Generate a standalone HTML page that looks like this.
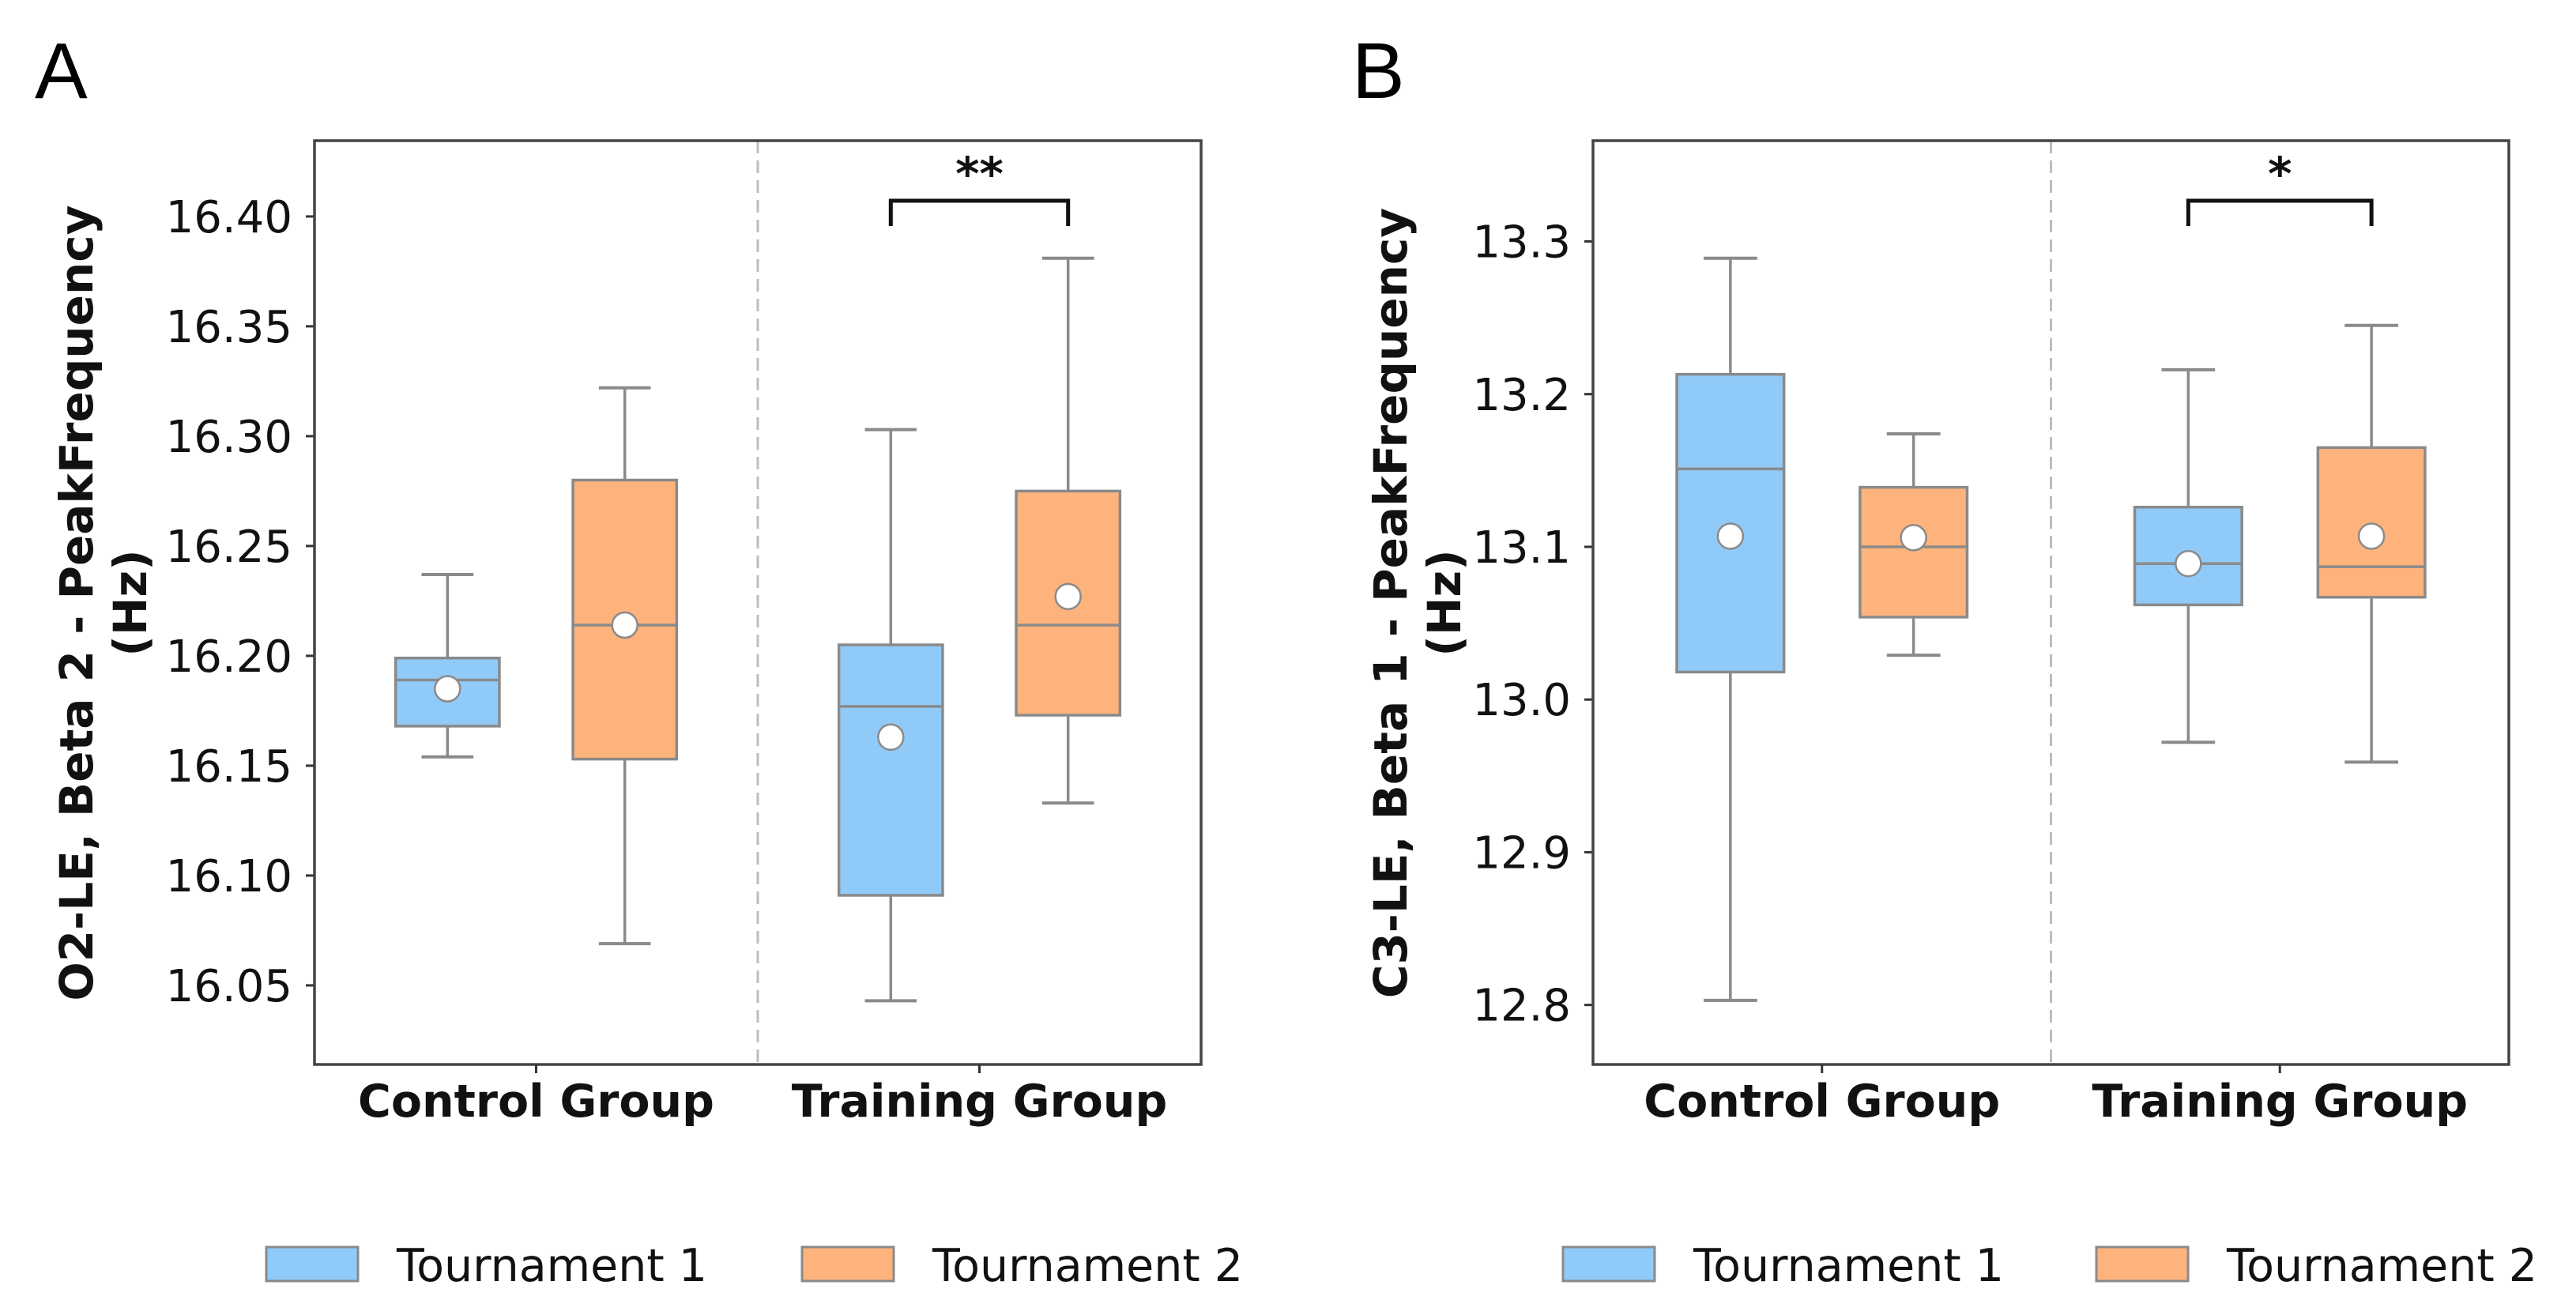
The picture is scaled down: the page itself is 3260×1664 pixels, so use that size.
<!DOCTYPE html>
<html><head><meta charset="utf-8"><style>
html,body{margin:0;padding:0;background:#fff;}
svg{display:block;font-family:"DejaVu Sans","Liberation Sans",sans-serif;}
</style></head><body>
<svg id="fig" width="3260" height="1664" viewBox="0 0 3260 1664" xmlns="http://www.w3.org/2000/svg">
<text x="44" y="124" font-family="Liberation Sans, sans-serif" font-size="100">A</text>
<text x="1711" y="124" font-family="Liberation Sans, sans-serif" font-size="100">B</text>
</svg>
<script>
// Panel A data
const groupsA = ["Control Group", "Training Group"];
const lowA  = [16.154, 16.069, 16.043, 16.133];
const q1A   = [16.168, 16.153, 16.091, 16.173];
const medA  = [16.189, 16.214, 16.177, 16.214];
const q3A   = [16.199, 16.280, 16.205, 16.275];
const highA = [16.237, 16.322, 16.303, 16.381];
const meanA = [16.185, 16.214, 16.163, 16.227];
const ticksA = [16.05, 16.10, 16.15, 16.20, 16.25, 16.30, 16.35, 16.40];
const tickLabelsA = ["16.05","16.10","16.15","16.20","16.25","16.30","16.35","16.40"];
const sigA = "**";
// Panel B data
const groupsB = ["Control Group", "Training Group"];
const lowB  = [12.803, 13.029, 12.972, 12.959];
const q1B   = [13.018, 13.054, 13.062, 13.067];
const medB  = [13.151, 13.100, 13.089, 13.087];
const q3B   = [13.213, 13.139, 13.126, 13.165];
const highB = [13.289, 13.174, 13.216, 13.245];
const meanB = [13.107, 13.106, 13.089, 13.107];
const ticksB = [12.8, 12.9, 13.0, 13.1, 13.2, 13.3];
const tickLabelsB = ["12.8","12.9","13.0","13.1","13.2","13.3"];
const sigB = "*";
const seriesNames = ["Tournament 1", "Tournament 2"];

const NS = "http://www.w3.org/2000/svg";
const svg = document.getElementById("fig");
function mk(tag, attrs, parent) {
  const e = document.createElementNS(NS, tag);
  for (const k in attrs) e.setAttribute(k, attrs[k]);
  (parent || svg).appendChild(e);
  return e;
}
const FILL = ["#90CAF8", "#FFB37C"];
const EDGE = "#8a8a8a";

function panel(cfg) {
  const g = mk("g", {});
  
  
  const L = cfg.left, R = cfg.right, T = 178, B = 1347;
  const y = v => B - (v - cfg.ymin) / (cfg.ymax - cfg.ymin) * (B - T);
  const W = R - L;
  const groupX = i => L + W * (0.25 + 0.5 * i);
  const boxX = (gi, s) => groupX(gi) + (s === 0 ? -1 : 1) * W * 0.1;
  const bw = W * 0.117;

  const dv = mk("line", {x1: L + W / 2, x2: L + W / 2, y1: T, y2: B, stroke: "#bdbdbd", "stroke-width": 3, "stroke-dasharray": "16,9"}, g);
  
  

  cfg.ticks.forEach((t, i) => {
    const tk = mk("line", {x1: L - 11, x2: L, y1: y(t), y2: y(t), stroke: "#333", "stroke-width": 3}, g);
    
    
    const tl = mk("text", {x: L - 28, y: y(t) + 20, "text-anchor": "end", "font-size": 56, fill: "#111"}, g);
    
    
    tl.textContent = cfg.tickLabels[i];
  });

  for (let k = 0; k < 4; k++) {
    const gi = Math.floor(k / 2), s = k % 2;
    const cx = boxX(gi, s);
    const bg = mk("g", {}, g);
    
    
    mk("line", {x1: cx, x2: cx, y1: y(cfg.high[k]), y2: y(cfg.q3[k]), stroke: EDGE, "stroke-width": 3.5}, bg);
    mk("line", {x1: cx, x2: cx, y1: y(cfg.q1[k]), y2: y(cfg.low[k]), stroke: EDGE, "stroke-width": 3.5}, bg);
    mk("line", {x1: cx - bw * 0.25, x2: cx + bw * 0.25, y1: y(cfg.high[k]), y2: y(cfg.high[k]), stroke: EDGE, "stroke-width": 4}, bg);
    mk("line", {x1: cx - bw * 0.25, x2: cx + bw * 0.25, y1: y(cfg.low[k]), y2: y(cfg.low[k]), stroke: EDGE, "stroke-width": 4}, bg);
    mk("rect", {x: cx - bw / 2, y: y(cfg.q3[k]), width: bw, height: y(cfg.q1[k]) - y(cfg.q3[k]), fill: FILL[s], stroke: EDGE, "stroke-width": 3.5}, bg);
    mk("line", {x1: cx - bw / 2, x2: cx + bw / 2, y1: y(cfg.med[k]), y2: y(cfg.med[k]), stroke: EDGE, "stroke-width": 3.5}, bg);
    mk("circle", {cx: cx, cy: y(cfg.mean[k]), r: 16, fill: "#fff", stroke: EDGE, "stroke-width": 2.5}, bg);
  }

  const x1 = boxX(1, 0), x2 = boxX(1, 1);
  const br = mk("path", {d: `M${x1},${cfg.brBot} V${cfg.brTop} H${x2} V${cfg.brBot}`, fill: "none", stroke: "#111", "stroke-width": 5}, g);
  
  
  const st = mk("text", {x: (x1 + x2) / 2, y: 240, "text-anchor": "middle", "font-size": 58, "font-weight": "bold", fill: "#111"}, g);
  
  
  st.textContent = cfg.sig;

  const fr = mk("rect", {x: L, y: T, width: W, height: B - T, fill: "none", stroke: "#444", "stroke-width": 3.5}, g);
  
  

  cfg.groups.forEach((name, i) => {
    const xt = mk("line", {x1: groupX(i), x2: groupX(i), y1: B, y2: B + 11, stroke: "#333", "stroke-width": 3}, g);
    
    
    const xl = mk("text", {x: groupX(i), y: 1413, "text-anchor": "middle", "font-size": 57, "font-weight": "bold", fill: "#111"}, g);
    
    
    xl.textContent = name;
  });

  const yl = mk("text", {transform: `translate(${cfg.ylx},763) rotate(-90)`, "text-anchor": "middle", "font-size": 58, "font-weight": "bold", fill: "#111"}, g);
  
  
  yl.textContent = cfg.ylabel;
  const yl2 = mk("text", {transform: `translate(${cfg.ylx + 68},763) rotate(-90)`, "text-anchor": "middle", "font-size": 58, "font-weight": "bold", fill: "#111"}, g);
  
  
  yl2.textContent = "(Hz)";

  cfg.legendX.forEach((lx, s) => {
    const lg = mk("g", {}, g);
    
    
    mk("rect", {x: lx, y: 1578, width: 116, height: 43, fill: FILL[s], stroke: EDGE, "stroke-width": 3}, lg);
    const t = mk("text", {x: lx + 165, y: 1621, "font-size": 57, fill: "#111"}, lg);
    t.textContent = seriesNames[s];
  });
}

panel({name: "panel-a", left: 398, right: 1520, ymin: 16.014, ymax: 16.4345,
  groups: groupsA, low: lowA, q1: q1A, med: medA, q3: q3A, high: highA, mean: meanA,
  ticks: ticksA, tickLabels: tickLabelsA, sig: sigA, brTop: 254, brBot: 286,
  ylx: 117, ylabel: "O2-LE, Beta 2 - PeakFrequency", legendX: [337, 1015]});
panel({name: "panel-b", left: 2016, right: 3175, ymin: 12.761, ymax: 13.366,
  groups: groupsB, low: lowB, q1: q1B, med: medB, q3: q3B, high: highB, mean: meanB,
  ticks: ticksB, tickLabels: tickLabelsB, sig: sigB, brTop: 254, brBot: 286,
  ylx: 1780, ylabel: "C3-LE, Beta 1 - PeakFrequency", legendX: [1978, 2653]});
</script>
</body></html>
